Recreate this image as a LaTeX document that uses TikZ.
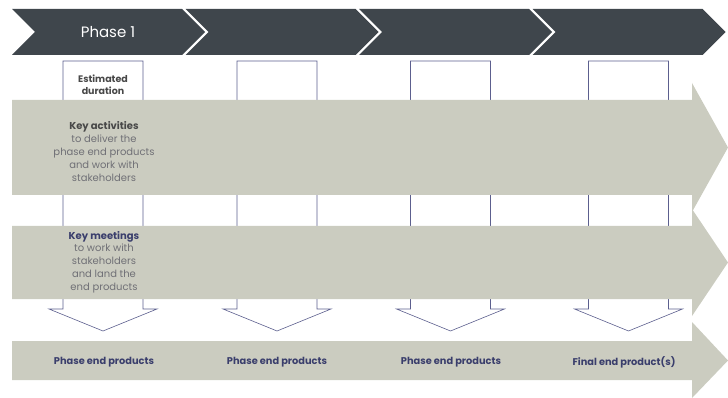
\documentclass[tikz,border=0pt]{standalone}
\usepackage{fontspec}
\setmainfont{Poppins}
\usepackage{tikz}
\definecolor{phasedark}{HTML}{3F464C}
\definecolor{bandgrey}{HTML}{CBCCC0}
\definecolor{colline}{HTML}{5C5F8E}
\definecolor{navytext}{HTML}{3A3E6C}
\definecolor{greytext}{HTML}{707076}
\definecolor{darktext}{HTML}{484848}

\begin{document}
\begin{tikzpicture}[x=1pt, y=-1pt,
        phase/.style = {fill=phasedark},
        band/.style = {fill=bandgrey},
        column/.style = {draw=colline, fill=white, line width=0.6pt},
        head/.style = {font=\fontsize{9.8}{11}\selectfont\bfseries},
        body/.style = {align=center, font=\fontsize{10}{12.8}\selectfont,
                        text=greytext, inner sep=0pt}]
        \useasboundingbox (0,0) rectangle (728,398);

        % phase chevrons
        \foreach \x in {12, 185.5, 359, 532.5}
            \path[phase] (\x,9) -- ++(170,0) -- ++(23,23) -- ++(-23,23)
                -- (\x,55) -- ++(23,-23) -- cycle;
        \node[text=white, font=\fontsize{15}{17}\selectfont] (phase1) at (108,32) {Phase 1};

        % columns ending in down arrows
        \foreach \c in {103, 277, 450.5, 628.5}
            \path[column] (\c-40,61) -- (\c+40,61) -- (\c+40,309) -- (\c+54,309)
                -- (\c,331) -- (\c-54,309) -- (\c-40,309) -- cycle;

        % bands
        \path[band] (12,100) -- (692,100) -- (692,83) -- (728,147.5) -- (692,212)
            -- (692,195) -- (12,195) -- cycle;
        \path[band] (12,226) -- (692,226) -- (692,209) -- (728,262.5) -- (692,316)
            -- (692,299) -- (12,299) -- cycle;
        \path[band] (12,341) -- (692,341) -- (692,322) -- (728,360.5) -- (692,398)
            -- (692,380) -- (12,380) -- cycle;

        \node[body, text=darktext, font=\fontsize{9.5}{11.5}\selectfont\bfseries]
            (duration) at (103,84.5) {Estimated\\duration};
        \node[body] (activities) at (104,151.5)
            {\textbf{\color{darktext}Key activities}\\to deliver the\\phase end products\\and work with\\stakeholders};
        \node[body] (meetings) at (104,262)
            {\textbf{\color{navytext}Key meetings}\\to work with\\stakeholders\\and land the\\end products};

        \node[head, text=navytext] (prod1) at (104,362) {Phase end products};
        \node[head, text=navytext] (prod2) at (277,362) {Phase end products};
        \node[head, text=navytext] (prod3) at (451,362) {Phase end products};
        \node[head, text=navytext] (final) at (624,362) {Final end product(s)};
\end{tikzpicture}
\end{document}
